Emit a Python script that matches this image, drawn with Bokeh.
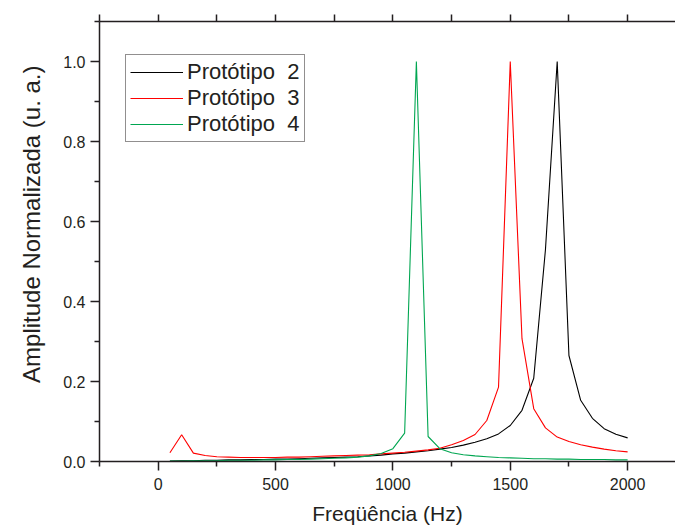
from bokeh.plotting import figure
from bokeh.models import (Range1d, LinearAxis, FixedTicker, Legend, LegendItem,
                          PrintfTickFormatter, Title)
from bokeh.embed import file_html
from bokeh.resources import INLINE

freq = [50, 100, 150, 200, 250, 300, 350, 400, 450, 500,
        550, 600, 650, 700, 750, 800, 850, 900, 950, 1000,
        1050, 1100, 1150, 1200, 1250, 1300, 1350, 1400, 1450, 1500,
        1550, 1600, 1650, 1700, 1750, 1800, 1850, 1900, 1950, 2000]

prot2 = [0.001, 0.002, 0.002, 0.003, 0.003, 0.004, 0.004, 0.005, 0.005, 0.006,
         0.006, 0.007, 0.008, 0.009, 0.010, 0.011, 0.012, 0.014, 0.016, 0.019,
         0.021, 0.024, 0.027, 0.031, 0.035, 0.041, 0.048, 0.057, 0.069, 0.090,
         0.128, 0.208, 0.530, 1.000, 0.265, 0.153, 0.108, 0.082, 0.068, 0.059]

prot3 = [0.022, 0.067, 0.021, 0.015, 0.012, 0.011, 0.010, 0.010, 0.010, 0.010,
         0.011, 0.011, 0.012, 0.013, 0.014, 0.015, 0.016, 0.017, 0.019, 0.021,
         0.023, 0.026, 0.029, 0.033, 0.042, 0.0525, 0.0675, 0.1025, 0.186, 1.000,
         0.307, 0.132, 0.084, 0.061, 0.050, 0.042, 0.036, 0.031, 0.027, 0.024]

prot4 = [0.001, 0.001, 0.002, 0.002, 0.002, 0.003, 0.003, 0.003, 0.004, 0.004,
         0.005, 0.005, 0.006, 0.007, 0.008, 0.009, 0.011, 0.014, 0.020, 0.032,
         0.071, 1.000, 0.0625, 0.032, 0.022, 0.017, 0.014, 0.012, 0.010, 0.009,
         0.008, 0.007, 0.007, 0.006, 0.006, 0.005, 0.005, 0.005, 0.004, 0.004]

series_names = ["Protótipo  2", "Protótipo  3", "Protótipo  4"]
series_colors = ["#000000", "#ff0000", "#00a651"]

x_major = [0, 500, 1000, 1500, 2000]
x_minor = [-250, 250, 750, 1250, 1750, 2250]
y_major = [0.0, 0.2, 0.4, 0.6, 0.8, 1.0]
y_minor = [0.1, 0.3, 0.5, 0.7, 0.9, 1.1]

x_title = "Freqüência (Hz)"
y_title = "Amplitude Normalizada (u. a.)"

FONT = "Liberation Sans"
TXT = "#231f20"

p = figure(width=675, height=529, output_backend="svg", toolbar_location=None,
           x_range=Range1d(-250, 2204), y_range=Range1d(0, 1.1),
           min_border_left=99, min_border_top=21, min_border_bottom=68,
           min_border_right=0)
p.outline_line_color = None
p.xgrid.visible = False
p.ygrid.visible = False
p.background_fill_color = "white"

renderers = []
for ys, c in zip([prot2, prot3, prot4], series_colors):
    r = p.line(freq, ys, line_color=c, line_width=1.1)
    renderers.append(r)

def style_axis(ax):
    ax.axis_line_color = TXT
    ax.axis_line_width = 1.5
    ax.major_tick_line_color = TXT
    ax.minor_tick_line_color = TXT
    ax.major_tick_line_width = 1.5
    ax.minor_tick_line_width = 1.5
    ax.major_tick_out = 9
    ax.major_tick_in = 0
    ax.minor_tick_out = 5
    ax.minor_tick_in = 0
    ax.major_label_text_font = FONT
    ax.major_label_text_color = TXT
    ax.major_label_text_font_size = "16px"
    ax.axis_label_text_font = FONT
    ax.axis_label_text_color = TXT
    ax.axis_label_text_font_style = "normal"

xa = p.xaxis[0]
xa.ticker = FixedTicker(ticks=x_major, minor_ticks=x_minor)
style_axis(xa)
xa.major_label_standoff = 7
xa.axis_label = x_title
xa.axis_label_text_font_size = "21px"
xa.axis_label_standoff = 9

ya = p.yaxis[0]
ya.ticker = FixedTicker(ticks=y_major, minor_ticks=y_minor)
style_axis(ya)
ya.major_label_standoff = 5
ya.formatter = PrintfTickFormatter(format="%.1f")

# top axis: tick marks only (no labels)
top = LinearAxis(ticker=FixedTicker(ticks=[], minor_ticks=x_major + x_minor))
style_axis(top)
top.minor_tick_out = 7
top.major_label_standoff = 0
p.add_layout(top, "above")

# y-axis title as a side title (allows an offset along the axis)
ytitle = Title(text=y_title, align="right", offset=44, vertical_align="top",
               standoff=27, text_font=FONT, text_font_size="24px",
               text_font_style="normal", text_color=TXT)
p.add_layout(ytitle, "left")

legend = Legend(items=[LegendItem(label=n, renderers=[r]) for n, r in zip(series_names, renderers)],
                location=(26, 319))
legend.label_text_font = FONT
legend.label_text_font_size = "22px"
legend.label_text_color = TXT
legend.glyph_width = 53
legend.glyph_height = 24
legend.label_height = 24
legend.label_standoff = 4
legend.spacing = 0
legend.padding = 4
legend.margin = 0
legend.border_line_color = TXT
legend.border_line_width = 1
legend.background_fill_alpha = 1
p.add_layout(legend, "center")

open("out.html", "w").write(file_html(p, INLINE))
